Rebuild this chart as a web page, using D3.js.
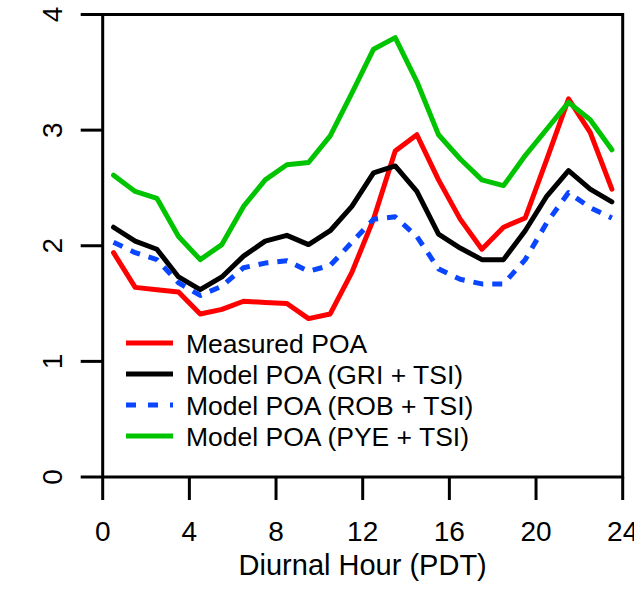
<!DOCTYPE html>
<html>
<head>
<meta charset="utf-8">
<script src="https://cdn.jsdelivr.net/npm/d3@7"></script>
<style>
  body { margin: 0; background: #fff; }
  text { font-family: "Liberation Sans", Arial, sans-serif; fill: #000; }
</style>
</head>
<body>
<svg id="chart" width="634" height="589"></svg>
<script>
// diurnal hours (bin centres)
const hours = [0.5, 1.5, 2.5, 3.5, 4.5, 5.5, 6.5, 7.5, 8.5, 9.5, 10.5, 11.5,
               12.5, 13.5, 14.5, 15.5, 16.5, 17.5, 18.5, 19.5, 20.5, 21.5, 22.5, 23.5];

const measured = [1.94, 1.64, 1.62, 1.60, 1.41, 1.45, 1.52, 1.51, 1.50, 1.37, 1.41, 1.77,
                  2.23, 2.82, 2.96, 2.57, 2.23, 1.97, 2.16, 2.24, 2.75, 3.27, 2.98, 2.49];
const modelGri = [2.16, 2.04, 1.97, 1.73, 1.62, 1.73, 1.91, 2.04, 2.09, 2.01, 2.13, 2.34,
                  2.63, 2.69, 2.47, 2.10, 1.98, 1.88, 1.88, 2.13, 2.43, 2.65, 2.49, 2.38];
const modelRob = [2.03, 1.94, 1.88, 1.68, 1.57, 1.65, 1.81, 1.85, 1.87, 1.78, 1.83, 2.03,
                  2.23, 2.25, 2.08, 1.80, 1.71, 1.67, 1.67, 1.88, 2.20, 2.46, 2.33, 2.24];
const modelPye = [2.61, 2.47, 2.41, 2.08, 1.88, 2.01, 2.34, 2.57, 2.70, 2.72, 2.95, 3.32,
                  3.70, 3.80, 3.42, 2.96, 2.75, 2.57, 2.52, 2.78, 3.01, 3.24, 3.09, 2.83];

const xTicks = [0, 4, 8, 12, 16, 20, 24];
const yTicks = [0, 1, 2, 3, 4];

const seriesNames = ["Measured POA", "Model POA (GRI + TSI)", "Model POA (ROB + TSI)", "Model POA (PYE + TSI)"];
const seriesColors = ["#ff0000", "#000000", "#0a45ff", "#00c400"];
const seriesDash = [null, null, "10,9", null];
const seriesValues = [measured, modelGri, modelRob, modelPye];

const svg = d3.select("#chart");
const plotLeft = 102.7, plotRight = 622.7, plotTop = 14.5, plotBottom = 477;

const x = d3.scaleLinear().domain([0, 24]).range([plotLeft, plotRight]);
const y = d3.scaleLinear().domain([0, 4]).range([plotBottom, plotTop]);

// frame box
svg.append("rect")
  .attr("x", plotLeft).attr("y", plotTop)
  .attr("width", plotRight - plotLeft).attr("height", plotBottom - plotTop)
  .style("fill", "none").style("stroke", "#000").style("stroke-width", 3);

// x axis ticks + labels
svg.selectAll(".xtick").data(xTicks).enter().append("line")
  .attr("x1", d => x(d)).attr("x2", d => x(d))
  .attr("y1", plotBottom).attr("y2", plotBottom + 23)
  .style("stroke", "#000").style("stroke-width", 3);

svg.selectAll(".xlab").data(xTicks).enter().append("text")
  .attr("x", d => x(d)).attr("y", 541)
  .attr("text-anchor", "middle")
  .style("font-size", "28px")
  .text(d => d);

// y axis ticks + labels (rotated, R style)
svg.selectAll(".ytick").data(yTicks).enter().append("line")
  .attr("x1", plotLeft - 22).attr("x2", plotLeft)
  .attr("y1", d => y(d)).attr("y2", d => y(d))
  .style("stroke", "#000").style("stroke-width", 3);

svg.selectAll(".ylab").data(yTicks).enter().append("text")
  .attr("transform", d => `translate(62,${y(d)}) rotate(-90)`)
  .attr("text-anchor", "middle")
  .style("font-size", "28px")
  .text(d => d);

svg.append("text")
  .attr("x", (plotLeft + plotRight) / 2).attr("y", 575)
  .attr("text-anchor", "middle")
  .style("font-size", "29px")
  .text("Diurnal Hour (PDT)");

// lines
const line = d3.line()
  .x((d, i) => x(hours[i]))
  .y(d => y(d));

seriesValues.forEach((vals, k) => {
  svg.append("path")
    .datum(vals)
    .attr("d", line)
    .style("fill", "none")
    .style("stroke", seriesColors[k])
    .style("stroke-width", 5)
    .style("stroke-linejoin", "round")
    .style("stroke-linecap", seriesDash[k] ? "butt" : "round")
    .style("stroke-dasharray", seriesDash[k]);
});

// legend
const legendY = [343, 374, 405, 436];
seriesNames.forEach((name, k) => {
  svg.append("line")
    .attr("x1", 126).attr("x2", 173)
    .attr("y1", legendY[k]).attr("y2", legendY[k])
    .style("stroke", seriesColors[k])
    .style("stroke-width", 5)
    .style("stroke-dasharray", seriesDash[k] ? "10,12" : null);
  svg.append("text")
    .attr("x", 186).attr("y", legendY[k] + 9.5)
    .style("font-size", "26.5px")
    .text(name);
});
</script>
</body>
</html>
